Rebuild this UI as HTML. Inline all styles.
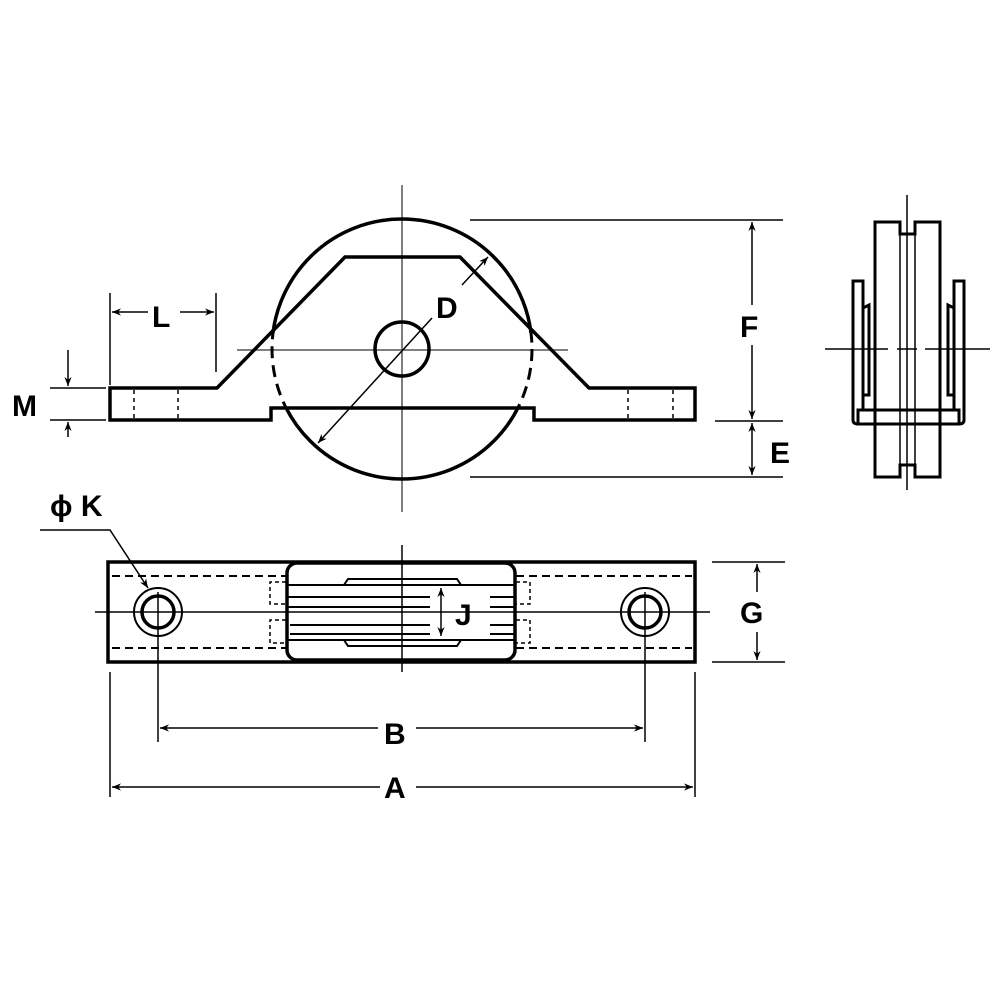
<!DOCTYPE html>
<html><head><style>body{margin:0;background:#fff}svg{display:block}text{font-family:"Liberation Sans",sans-serif;font-weight:bold;font-size:30px;fill:#000}</style></head><body>
<svg width="1000" height="1000" viewBox="0 0 1000 1000">
<defs>
<marker id="a" viewBox="0 0 10 10" refX="10" refY="5" markerWidth="9" markerHeight="9" orient="auto-start-reverse" markerUnits="userSpaceOnUse"><path d="M0,1 L10,5 L0,9 L3,5 Z" fill="#000"/></marker>
<clipPath id="out"><rect x="0" y="0" width="1000" height="333"/><rect x="0" y="408" width="1000" height="600"/></clipPath>
<clipPath id="in"><rect x="0" y="333" width="1000" height="75"/></clipPath>
</defs>
<g fill="none" stroke="#000">
<!-- center lines -->
<g stroke="#555" stroke-width="1.5">
<line x1="402" y1="185" x2="402" y2="512"/>
<line x1="237" y1="350" x2="568" y2="350"/>
</g>
<!-- wheel -->
<circle cx="402" cy="349" r="130" stroke-width="3.5" clip-path="url(#out)"/>
<circle cx="402" cy="349" r="130" stroke-width="3" stroke-dasharray="12,7" clip-path="url(#in)"/>
<circle cx="402" cy="349" r="27" stroke-width="3.5"/>
<!-- bracket -->
<path d="M110,388 L217,388 L345,257 L460,257 L589,388 L695,388 L695,420 L534,420 L534,408 L271,408 L271,420 L110,420 Z" stroke-width="3.5" stroke-linejoin="miter"/>
<g stroke-width="1.5" stroke-dasharray="4,4">
<line x1="134" y1="390" x2="134" y2="418"/><line x1="178" y1="390" x2="178" y2="418"/>
<line x1="628" y1="390" x2="628" y2="418"/><line x1="673" y1="390" x2="673" y2="418"/>
</g>
<!-- D -->
<g stroke-width="1.5">
<line x1="318" y1="443" x2="432" y2="318" marker-start="url(#a)"/>
<line x1="462" y1="285" x2="488" y2="257" marker-end="url(#a)"/>
</g>
<!-- L, M -->
<g stroke-width="1.5">
<line x1="110" y1="293" x2="110" y2="385"/><line x1="216" y1="293" x2="216" y2="372"/>
<line x1="112" y1="312" x2="148" y2="312" marker-start="url(#a)"/>
<line x1="180" y1="312" x2="214" y2="312" marker-end="url(#a)"/>
<line x1="50" y1="388" x2="106" y2="388"/><line x1="50" y1="420" x2="106" y2="420"/>
<line x1="68" y1="350" x2="68" y2="386" marker-end="url(#a)"/>
<line x1="68" y1="437" x2="68" y2="422" marker-end="url(#a)"/>
</g>
<!-- F E -->
<g stroke-width="1.5">
<line x1="470" y1="220" x2="783" y2="220"/>
<line x1="715" y1="421" x2="783" y2="421"/>
<line x1="470" y1="477" x2="783" y2="477"/>
<line x1="752" y1="222" x2="752" y2="305" marker-start="url(#a)"/>
<line x1="752" y1="345" x2="752" y2="419" marker-end="url(#a)"/>
<line x1="752" y1="423" x2="752" y2="475" marker-start="url(#a)" marker-end="url(#a)"/>
</g>
<!-- side view -->
<g stroke-width="3">
<path d="M875,222 L900,222 L900,234 L915,234 L915,222 L940,222 L940,477 L915,477 L915,465 L900,465 L900,477 L875,477 Z"/>
<path d="M853,420 L853,281 L863,281 L863,410"/>
<path d="M964,420 L964,281 L954,281 L954,410"/>
<path d="M853,420 Q853,424 858,424 L959,424 Q964,424 964,420"/>
<rect x="858" y="410" width="101" height="14"/>
<path d="M863,308 L869,305 L869,395 L863,395"/>
<path d="M954,308 L948,305 L948,395 L954,395"/>
</g>
<g stroke-width="1.5">
<line x1="900" y1="234" x2="900" y2="465"/><line x1="915" y1="234" x2="915" y2="465"/>
<line x1="907" y1="195" x2="907" y2="490"/>
<line x1="825" y1="349" x2="888" y2="349"/><line x1="897" y1="349" x2="917" y2="349"/><line x1="925" y1="349" x2="990" y2="349"/>
</g>
<!-- bottom view -->
<rect x="108" y="562" width="587" height="100" stroke-width="3.5"/>
<g stroke-width="2" stroke-dasharray="8,5">
<line x1="112" y1="576" x2="286" y2="576"/><line x1="516" y1="576" x2="692" y2="576"/>
<line x1="112" y1="648" x2="286" y2="648"/><line x1="516" y1="648" x2="692" y2="648"/>
</g>
<g stroke-width="1.5" stroke-dasharray="4,3">
<path d="M286,582 L270,582 L270,604 L286,604"/><path d="M286,620 L270,620 L270,643 L286,643"/>
<path d="M516,582 L530,582 L530,604 L516,604"/><path d="M516,620 L530,620 L530,643 L516,643"/>
</g>
<rect x="287" y="563" width="228" height="97" rx="10" stroke-width="3.5"/>
<g stroke-width="2">
<line x1="288" y1="585" x2="514" y2="585"/><line x1="288" y1="640" x2="514" y2="640"/>
<path d="M344,585 L348,579 L457,579 L461,585"/><path d="M344,640 L348,646 L457,646 L461,640"/>
<line x1="288" y1="607" x2="430" y2="607"/><line x1="290" y1="634" x2="430" y2="634"/>
<line x1="288" y1="597" x2="430" y2="597"/><line x1="290" y1="625" x2="430" y2="625"/>
<line x1="490" y1="597" x2="514" y2="597"/><line x1="490" y1="607" x2="514" y2="607"/>
<line x1="490" y1="625" x2="514" y2="625"/><line x1="490" y1="634" x2="514" y2="634"/>
</g>
<circle cx="158" cy="612" r="24" stroke-width="2"/><circle cx="158" cy="612" r="16" stroke-width="3.5"/>
<circle cx="645" cy="612" r="24" stroke-width="2"/><circle cx="645" cy="612" r="16" stroke-width="3.5"/>
<g stroke-width="1.5">
<line x1="95" y1="612" x2="710" y2="612"/>
<line x1="402" y1="545" x2="402" y2="672"/>
<line x1="158" y1="592" x2="158" y2="742"/>
<line x1="645" y1="592" x2="645" y2="742"/>
<line x1="110" y1="672" x2="110" y2="797"/><line x1="695" y1="672" x2="695" y2="797"/>
<line x1="441" y1="588" x2="441" y2="636" marker-start="url(#a)" marker-end="url(#a)"/>
<line x1="712" y1="562" x2="785" y2="562"/><line x1="712" y1="662" x2="785" y2="662"/>
<line x1="757" y1="564" x2="757" y2="592" marker-start="url(#a)"/>
<line x1="757" y1="632" x2="757" y2="660" marker-end="url(#a)"/>
<line x1="160" y1="728" x2="378" y2="728" marker-start="url(#a)"/>
<line x1="416" y1="728" x2="643" y2="728" marker-end="url(#a)"/>
<line x1="112" y1="787" x2="380" y2="787" marker-start="url(#a)"/>
<line x1="416" y1="787" x2="693" y2="787" marker-end="url(#a)"/>
<path d="M40,530 L110,530 L148,588" marker-end="url(#a)"/>
</g>
</g>
<text x="152" y="327">L</text>
<text x="12" y="416">M</text>
<text x="436" y="318">D</text>
<text x="740" y="337">F</text>
<text x="770" y="463">E</text>
<text x="740" y="623">G</text>
<text x="455" y="625">J</text>
<text x="384" y="744">B</text>
<text x="384" y="798">A</text>
<text x="50" y="516">ϕ K</text>
</svg>
</body></html>
